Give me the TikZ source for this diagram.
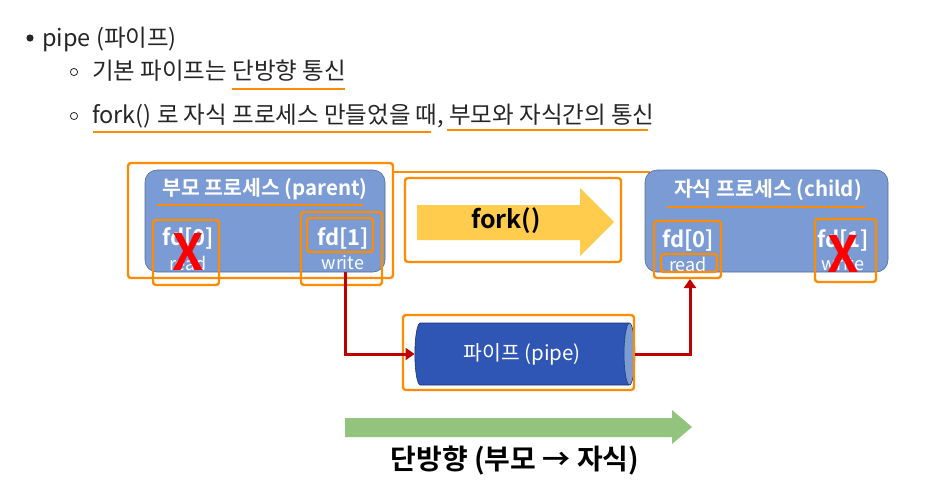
\documentclass[tikz,border=0pt]{standalone}
\usepackage{fontspec}
\setmainfont{Noto Sans CJK KR}[BoldFont={Noto Sans CJK KR Bold}]
\usetikzlibrary{shapes.geometric,arrows.meta}
\definecolor{procblue}{RGB}{122,155,212}
\definecolor{pipeblue}{RGB}{47,85,181}
\definecolor{hlorange}{RGB}{255,140,0}
\definecolor{forkyellow}{RGB}{255,204,77}
\definecolor{dirgreen}{RGB}{147,196,125}
\definecolor{conred}{RGB}{192,0,0}
\begin{document}
\begin{tikzpicture}[x=1pt,y=-1pt,
  txt/.style={inner sep=0pt,anchor=base west,font=\fontsize{23.5}{26}\selectfont,text=black!85},
  proc/.style={fill=procblue,draw=procblue!70!black,line width=0.6pt,rounded corners=12pt},
  hl/.style={draw=hlorange,line width=2.4pt,rounded corners=3pt},
  hlline/.style={draw=hlorange,line width=2.6pt},
  ttl/.style={text=white,font=\bfseries\fontsize{20.5}{22}\selectfont,inner sep=0pt},
  fdt/.style={text=white,font=\bfseries\fontsize{22}{24}\selectfont,inner sep=0pt},
  rwt/.style={text=white,font=\fontsize{18}{20}\selectfont,inner sep=0pt},
  cross/.style={text=red,font=\bfseries\fontsize{50}{52}\selectfont,inner sep=0pt},
  conn/.style={draw=conred,line width=3pt,-{Triangle[length=9pt,width=12pt]}}
]
\useasboundingbox (0,0) rectangle (944,480);
\fill[white] (0,0) rectangle (944,480);

% bullet text
\fill[black!85] (30,38) circle (3.6);
\node[txt] (t1) at (42,46) {pipe (파이프)};
\draw[black!85,line width=0.8pt] (74,72) circle (3.6);
\node[txt] (t2) at (92,79) {기본 파이프는 단방향 통신};
\draw[hlline] (232,89) -- (345,89);
\draw[black!85,line width=0.8pt] (74,116) circle (3.6);
\node[txt] (t3) at (92,123) {fork() 로 자식 프로세스 만들었을 때, 부모와 자식간의 통신};
\draw[hlline] (93,132) -- (431,132);
\draw[hlline] (447,130) -- (648,130);

% parent
\path[proc] (145,170) rectangle (385,272);
\path[hl] (128,163) rectangle (393,278);
\draw[hlline] (393,172) -- (650,172);
\node[ttl] (ptitle) at (265,189) {부모 프로세스 (parent)};
\draw[hlline] (157,205) -- (363,205);
\node[fdt] (pfd0) at (188,238) {fd[0]};
\node[rwt] (pread) at (188,263) {read};
\node[fdt] (pfd1) at (343,238) {fd[1]};
\node[rwt] (pwrite) at (343,263) {write};
\path[hl] (153,220) rectangle (219,285);
\path[hl] (301,212) rectangle (382,285);
\path[hl] (307,218) rectangle (373,252);
\node[cross] (px) at (188,252) {X};

% fork arrow
\path[hl] (405,178) rectangle (621,262);
\fill[forkyellow] (417,205) -- (580,205) -- (580,188) -- (614,222) -- (580,256) -- (580,240) -- (417,240) -- cycle;
\node[inner sep=0pt,font=\bfseries\fontsize{25}{27}\selectfont] (fork) at (506,221) {fork()};

% child
\path[proc] (645,170) rectangle (888,272);
\node[ttl] (ctitle) at (768,190) {자식 프로세스 (child)};
\draw[hlline] (667,207) -- (865,207);
\node[fdt] (cfd0) at (688,240) {fd[0]};
\node[rwt] (cread) at (688,264) {read};
\node[fdt] (cfd1) at (843,240) {fd[1]};
\node[rwt] (cwrite) at (843,264) {write};
\path[hl] (654,221) rectangle (721,278);
\path[hl] (661,254) rectangle (717,272);
\path[hl] (815,219) rectangle (876,282);
\node[cross] (cx) at (843,254) {X};

% pipe
\node[cylinder,shape border rotate=0,aspect=0.5,minimum width=62pt,minimum height=220pt,
  inner sep=0pt,draw=pipeblue!60!black,line width=0.6pt,cylinder uses custom fill,
  cylinder body fill=pipeblue,cylinder end fill=procblue,
  text=white,font=\fontsize{20.5}{22}\selectfont] (pipe) at (522,354) {파이프 (pipe)};
\path[hl] (403,315) rectangle (634,390);
\coordinate (w1) at (345,272);
\coordinate (r1) at (690,279);
\draw[conn] (w1) |- (pipe.west);
\draw[conn] (pipe.east) -| (r1);

% direction
\fill[dirgreen] (345,418) -- (672,418) -- (672,410) -- (692,427) -- (672,444) -- (672,437) -- (345,437) -- cycle;
\node[inner sep=0pt,font=\bfseries\fontsize{28}{30}\selectfont] (dir) at (515,461) {단방향 (부모 → 자식)};
\end{tikzpicture}
\end{document}
